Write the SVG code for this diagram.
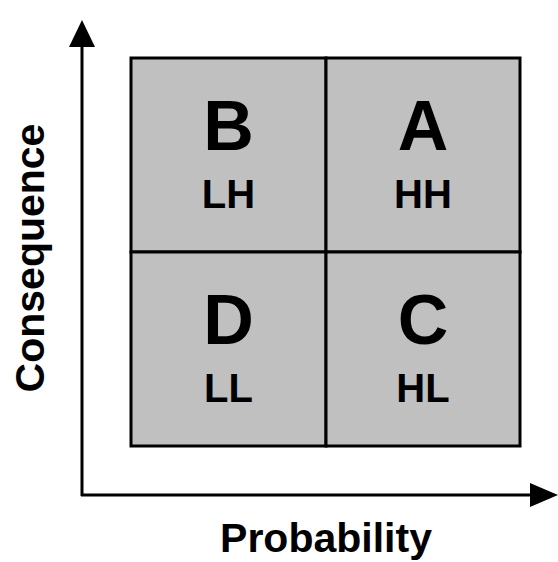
<svg xmlns="http://www.w3.org/2000/svg" width="558" height="562" viewBox="0 0 558 562">
  <style>
    .cell { fill: #c0c0c0; stroke: #000; stroke-width: 3; }
    .axis { stroke: #000; stroke-width: 3; fill: none; }
    .big { font-family: "Liberation Sans", Arial, sans-serif; font-weight: bold; font-size: 70px; text-anchor: middle; fill: #000; }
    .small { font-family: "Liberation Sans", Arial, sans-serif; font-weight: bold; font-size: 40px; text-anchor: middle; fill: #000; }
    .label { font-family: "Liberation Sans", Arial, sans-serif; font-weight: bold; font-size: 41px; text-anchor: middle; fill: #000; }
  </style>

  <rect x="0" y="0" width="558" height="562" fill="#fff"/>

  <!-- quadrants -->
  <g id="node-B">
    <rect class="cell" x="131" y="58" width="195" height="194"/>
    <text class="big" x="228.5" y="150">B</text>
    <text class="small" x="228.5" y="208">LH</text>
  </g>
  <g id="node-A">
    <rect class="cell" x="326" y="58" width="194" height="194"/>
    <text class="big" x="423" y="150">A</text>
    <text class="small" x="423" y="208">HH</text>
  </g>
  <g id="node-D">
    <rect class="cell" x="131" y="252" width="195" height="194"/>
    <text class="big" x="228.5" y="344">D</text>
    <text class="small" x="228.5" y="402">LL</text>
  </g>
  <g id="node-C">
    <rect class="cell" x="326" y="252" width="194" height="194"/>
    <text class="big" x="423" y="344">C</text>
    <text class="small" x="423" y="402">HL</text>
  </g>

  <!-- axes -->
  <g id="connectors">
    <line class="axis" x1="82" y1="496" x2="82" y2="47"/>
    <path d="M82,20 L95,47 L69,47 Z" fill="#000"/>
    <line class="axis" x1="81" y1="495" x2="531" y2="495"/>
    <path d="M558,495 L530,483 L530,507 Z" fill="#000"/>
  </g>

  <text class="label" x="326" y="552">Probability</text>
  <text class="label" transform="translate(44,258) rotate(-90)">Consequence</text>
</svg>
